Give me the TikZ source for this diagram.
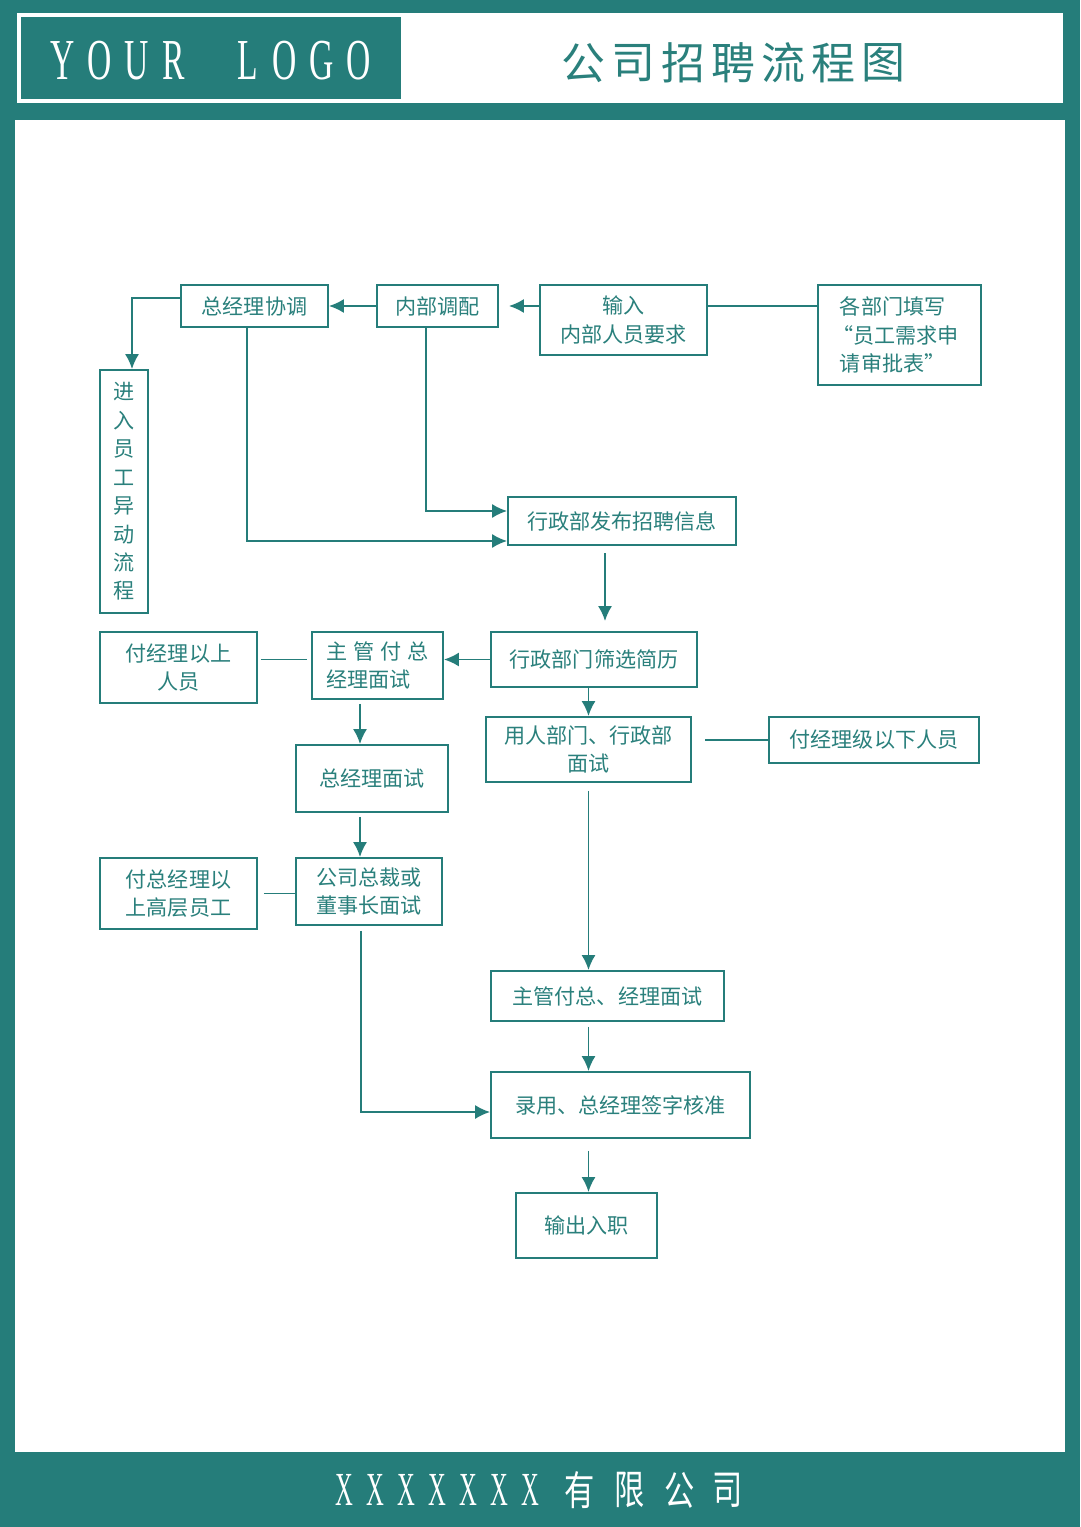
\documentclass[tikz,border=0pt]{standalone}
\usepackage{fontspec}
\usepackage{graphicx}
\setmainfont{Noto Sans CJK SC}
\newfontfamily\logofont{Liberation Serif}
\usetikzlibrary{positioning,arrows.meta}
\definecolor{frameteal}{RGB}{37,125,122}
\definecolor{inkteal}{RGB}{42,128,124}
\tikzset{
  box/.style={draw=frameteal,line width=1.1pt,inner sep=0pt,align=center,text=inkteal,font=\fontsize{12}{16}\selectfont},
  link/.style={draw=frameteal,line width=1.1pt},
  arrowlink/.style={link,-{Latex[length=8.5pt,width=8pt]}},
}

\begin{document}
\begin{tikzpicture}[x=0.02cm,y=-0.02cm]
\fill[frameteal] (0,0) rectangle (1080,1527);
\fill[white] (17,13) rectangle (1063,103);
\fill[white] (15,120) rectangle (1065,1452);
\fill[frameteal] (21,17) rectangle (401,99);
\foreach \x/\c in {63/Y,100/O,137/U,174/R,248/L,285/O,322/G,359/O}
  \node[text=white,inner sep=0pt] at (\x,61) {\scalebox{0.58}[1]{\logofont\fontsize{33}{33}\selectfont\c}};
\foreach \x/\c in {583/公,633/司,683/招,733/聘,783/流,833/程,883/图}
  \node[text=inkteal,inner sep=0pt,font=\fontsize{25}{25}\selectfont] at (\x,63) {\c};
\foreach \i in {0,...,6}
  \node[text=white,inner sep=0pt] at (344+31*\i,1490) {\scalebox{0.52}[1]{\logofont\fontsize{27}{27}\selectfont X}};
\foreach \x/\c in {580/有,630/限,680/公,728/司}
  \node[text=white,inner sep=0pt] at (\x,1490) {\scalebox{0.75}[1]{\fontsize{23}{23}\selectfont\c}};

\node[box,minimum width=2.94cm,minimum height=0.84cm] (gmcoord) at (254.5,306) {总经理协调};
\node[box,minimum width=2.42cm,minimum height=0.84cm] (transfer) at (437.5,306) {内部调配};
\node[box,minimum width=3.34cm,minimum height=1.40cm] (input) at (623.5,320) {输入\\内部人员要求};
\node[box,minimum width=3.26cm,minimum height=2.00cm,align=left] (deptform) at (899.5,335) {各部门填写\\\hspace{-0.35em}“员工需求申\\请审批表”};
\node[box,minimum width=0.96cm,minimum height=4.86cm,font=\fontsize{12}{16.2}\selectfont] (changeflow) at (124,491.5) {进\\入\\员\\工\\异\\动\\流\\程};
\node[box,minimum width=4.56cm,minimum height=0.96cm] (publish) at (622,521) {行政部发布招聘信息};
\node[box,minimum width=3.14cm,minimum height=1.42cm] (vpabove) at (178.5,667.5) {付经理以上\\人员};
\node[box,minimum width=2.62cm,minimum height=1.34cm,align=left] (vpint) at (377.5,665.5) {主\hspace{3.4pt}管\hspace{3.4pt}付\hspace{3.4pt}总\\经理面试};
\node[box,minimum width=4.12cm,minimum height=1.10cm] (screen) at (594,659.5) {行政部门筛选简历};
\node[box,minimum width=4.10cm,minimum height=1.30cm] (deptint) at (588.5,749.5) {用人部门、行政部\\面试};
\node[box,minimum width=4.20cm,minimum height=0.92cm] (belowvp) at (874,740) {付经理级以下人员};
\node[box,minimum width=3.04cm,minimum height=1.34cm] (gmint) at (372,778.5) {总经理面试};
\node[box,minimum width=3.14cm,minimum height=1.42cm] (seniorstaff) at (178.5,893.5) {付总经理以\\上高层员工};
\node[box,minimum width=2.92cm,minimum height=1.34cm] (ceoint) at (369,891.5) {公司总裁或\\董事长面试};
\node[box,minimum width=4.66cm,minimum height=1.00cm] (supint) at (607.5,996) {主管付总、经理面试};
\node[box,minimum width=5.18cm,minimum height=1.32cm] (hire) at (620.5,1105) {录用、总经理签字核准};
\node[box,minimum width=2.82cm,minimum height=1.30cm] (onboard) at (586.5,1225.5) {输出入职};

\coordinate (turnA) at (132,298);
\coordinate (turnB) at (247,541);
\coordinate (turnC) at (426,511);
\coordinate (colP) at (605,553);
\coordinate (colQ) at (360,703);
\coordinate (turnD) at (361,1112);

\draw[link] (input.east |- transfer) -- (deptform.west |- transfer);
\draw[arrowlink,shorten >=2mm] (input.west |- transfer) -- (transfer.east);
\draw[arrowlink] (transfer.west) -- (gmcoord.east);
\draw[arrowlink] (gmcoord.west |- turnA) -- (turnA) -- (turnA |- changeflow.north);
\draw[arrowlink] (turnB |- gmcoord.south) -- (turnB) -- (publish.west |- turnB);
\draw[arrowlink] (turnC |- transfer.south) -- (turnC) -- (publish.west |- turnC);
\draw[arrowlink,shorten >=2mm] (colP) -- (colP |- screen.north);
\draw[arrowlink] (screen.west) -- (screen.west -| vpint.east);
\draw[link,shorten <=0.6mm,shorten >=0.8mm] (vpabove.east |- screen) -- (vpint.west |- screen);
\draw[arrowlink] (screen.south -| deptint) -- (deptint.north);
\draw[link,shorten >=2.6mm] (belowvp.west) -- (belowvp.west -| deptint.east);
\draw[arrowlink,shorten <=0.8mm] (vpint.south -| colQ) -- (gmint.north -| colQ);
\draw[arrowlink,shorten <=0.8mm] (gmint.south -| colQ) -- (ceoint.north -| colQ);
\draw[link,shorten <=1.2mm] (seniorstaff.east) -- (seniorstaff.east -| ceoint.west);
\draw[arrowlink,shorten <=1.6mm] (deptint.south) -- (deptint.south |- supint.north);
\draw[arrowlink,shorten <=1mm] (ceoint.south -| turnD) -- (turnD) -- (turnD -| hire.west);
\draw[arrowlink,shorten <=1mm] (supint.south -| deptint) -- (hire.north -| deptint);
\draw[arrowlink,shorten <=2.4mm] (hire.south -| deptint) -- (onboard.north -| deptint);
\end{tikzpicture}
\end{document}
